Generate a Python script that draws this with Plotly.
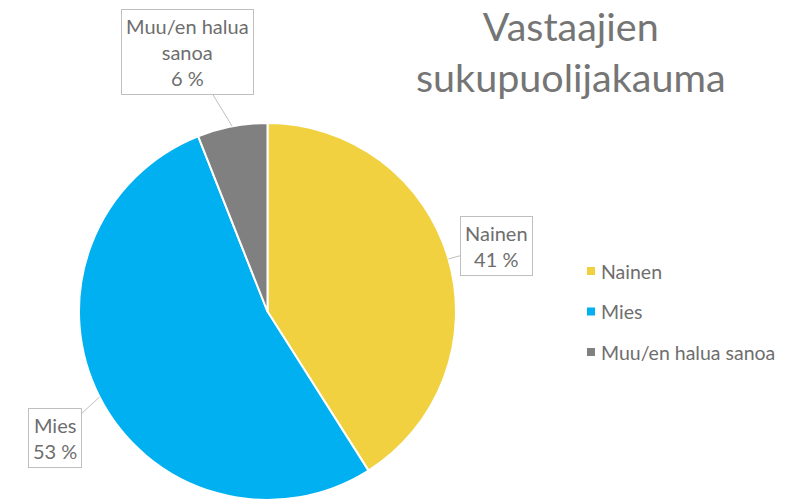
import math
import plotly.graph_objects as go

categories = ["Nainen", "Mies", "Muu/en halua sanoa"]
values = [41, 53, 6]
colors = ["#F1D13F", "#00B0F0", "#808080"]
title_lines = ["Vastaajien", "sukupuolijakauma"]

W, H = 794, 500
FONT = "Lato"
TXT = "#6E6E6E"

# pie geometry (pixels)
cx, cy, R = 267.5, 311.5, 188.5
dom_x = [(cx - R) / W, (cx + R) / W]
dom_y = [1 - (cy + R) / H, 1 - (cy - R) / H]

fig = go.Figure(go.Pie(
    labels=categories, values=values, sort=False, direction="clockwise",
    rotation=0, marker=dict(colors=colors, line=dict(color="white", width=2)),
    textinfo="none", hoverinfo="label+percent", showlegend=False,
    domain=dict(x=dom_x, y=dom_y),
))

# callout labels, pointing at the middle of each slice's edge
label_text = ["Nainen<br>41 %", "Mies<br>53 %", "Muu/en halua<br>sanoa<br>6 %"]
offsets = [(48, -13), (-45, 41), (-45, -74)]
total = sum(values)
cum = 0
for v, t, (ax, ay) in zip(values, label_text, offsets):
    mid = (cum + v / 2) / total * 2 * math.pi
    cum += v
    px = cx + R * math.sin(mid)
    py = cy - R * math.cos(mid)
    fig.add_annotation(
        x=px / W, y=1 - py / H, xref="paper", yref="paper",
        text=t, showarrow=True, arrowhead=0, arrowwidth=1, arrowcolor="#BFBFBF",
        ax=ax, ay=ay, bordercolor="#BFBFBF", borderwidth=1, borderpad=4,
        bgcolor="white", font=dict(family=FONT, size=20, color=TXT), align="center",
    )

# legend
leg_x, leg_y0, leg_dy = 591, 271, 40.5
for i, (c, lab) in enumerate(zip(colors, categories)):
    yy = leg_y0 + i * leg_dy
    fig.add_shape(type="rect", xref="paper", yref="paper",
                  x0=(leg_x - 4) / W, x1=(leg_x + 4) / W,
                  y0=1 - (yy + 4) / H, y1=1 - (yy - 4) / H,
                  fillcolor=c, line=dict(width=0))
    fig.add_annotation(x=(leg_x + 8) / W, y=1 - yy / H, xref="paper", yref="paper",
                       text=lab, showarrow=False, xanchor="left", yanchor="middle",
                       font=dict(family=FONT, size=19.5, color=TXT))

# title
fig.add_annotation(x=571 / W, y=1, xref="paper", yref="paper",
                   text="<br>".join(title_lines), showarrow=False,
                   xanchor="center", yanchor="top", align="center",
                   font=dict(family=FONT, size=39.5, color="#757575"))

fig.update_layout(
    width=W, height=H, margin=dict(l=0, r=0, t=0, b=0),
    paper_bgcolor="white", plot_bgcolor="white",
)

fig.write_html("out.html", config={"displayModeBar": False},
               post_script="document.body.style.margin='0';document.body.style.overflow='hidden';")
